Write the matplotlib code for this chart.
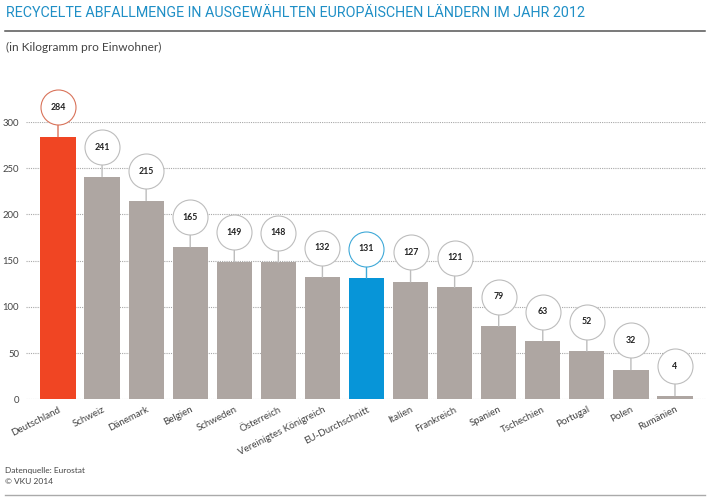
import matplotlib
matplotlib.use("Agg")
import matplotlib.pyplot as plt
from matplotlib.transforms import ScaledTranslation
from matplotlib.lines import Line2D

plt.rcParams['font.family'] = ['Lato', 'DejaVu Sans']

countries = ["Deutschland", "Schweiz", "Dänemark", "Belgien", "Schweden", "Österreich",
             "Vereinigtes Königreich", "EU-Durchschnitt", "Italien", "Frankreich",
             "Spanien", "Tschechien", "Portugal", "Polen", "Rumänien"]
values = [284, 241, 215, 165, 149, 148, 132, 131, 127, 121, 79, 63, 52, 32, 4]
colors = ["#f04523"] + ["#aea6a2"] * 6 + ["#0795d8"] + ["#aea6a2"] * 7
edge_colors = ["#d9735a"] + ["#bdbdbd"] * 6 + ["#3fa9d8"] + ["#bdbdbd"] * 7
y_ticks = [0, 50, 100, 150, 200, 250, 300]

W, H = 710, 497
fig = plt.figure(figsize=(W / 100, H / 100), dpi=100)
L, R, B, T = 26, 706, 399.3, 122
ax = fig.add_axes([L / W, 1 - B / H, (R - L) / W, (B - T) / H])
sp = 44.07
ax.set_xlim((L - 58) / sp, (R - 58) / sp)
ax.set_ylim(0, 300)
for s in ax.spines.values():
    s.set_visible(False)
ax.patch.set_alpha(0)

ax.set_axisbelow(True)
ax.set_yticks(y_ticks)
ax.yaxis.grid(True, color="#a8a8a8", lw=0.8, ls=(0, (1, 1)), zorder=0)
ax.tick_params(axis='y', length=0, labelsize=6.8, labelcolor="#444444", pad=5)

x = list(range(len(values)))
ax.bar(x, values, width=0.8, color=colors, zorder=2)

ax.set_xticks(x)
ax.set_xticklabels(countries, rotation=27, ha='right', rotation_mode='anchor',
                   fontsize=7, color="#444444")
ax.tick_params(axis='x', length=0, pad=4)

offset_pts = 29.5 * 0.72
shift = ax.transData + ScaledTranslation(0, offset_pts / 72, fig.dpi_scale_trans)
for xi, v, ec in zip(x, values, edge_colors):
    ax.annotate("", xy=(xi, v), xytext=(0, offset_pts), textcoords='offset points',
                arrowprops=dict(arrowstyle='-', color=ec, lw=1.0, shrinkA=0, shrinkB=0),
                zorder=3, annotation_clip=False)
    ax.plot([xi], [v], marker='o', ms=25.2, mfc='white', mec=ec, mew=0.8,
            transform=shift, clip_on=False, zorder=4)
    ax.text(xi, v, str(v), transform=shift, ha='center', va='center', fontsize=6.3,
            fontweight='bold', color="#222222", zorder=5, clip_on=False)

def px(xp, yp):
    return xp / W, 1 - yp / H

title = fig.text(*px(6, 13), "RECYCELTE ABFALLMENGE IN AUSGEWÄHLTEN EUROPÄISCHEN LÄNDERN IM JAHR 2012",
                 fontsize=10.5, color="#1f8fc6", va='center', ha='left', family='Roboto')
renderer = fig.canvas.get_renderer()
title.set_fontsize(10.5 * 581 / title.get_window_extent(renderer).width)

fig.text(*px(6, 47), "(in Kilogramm pro Einwohner)", fontsize=8.6, color="#444444", va='center', ha='left')
fig.text(*px(5, 470), "Datenquelle: Eurostat", fontsize=6, color="#444444", va='center', ha='left')
fig.text(*px(5, 481), "© VKU 2014", fontsize=6, color="#444444", va='center', ha='left')

fig.add_artist(Line2D([5 / W, 705 / W], [1 - 30.5 / H] * 2, color="#555555", lw=1.1))
fig.add_artist(Line2D([5 / W, 705 / W], [1 - 494.5 / H] * 2, color="#aaaaaa", lw=1.0))

fig.savefig("out.png", dpi=100)
